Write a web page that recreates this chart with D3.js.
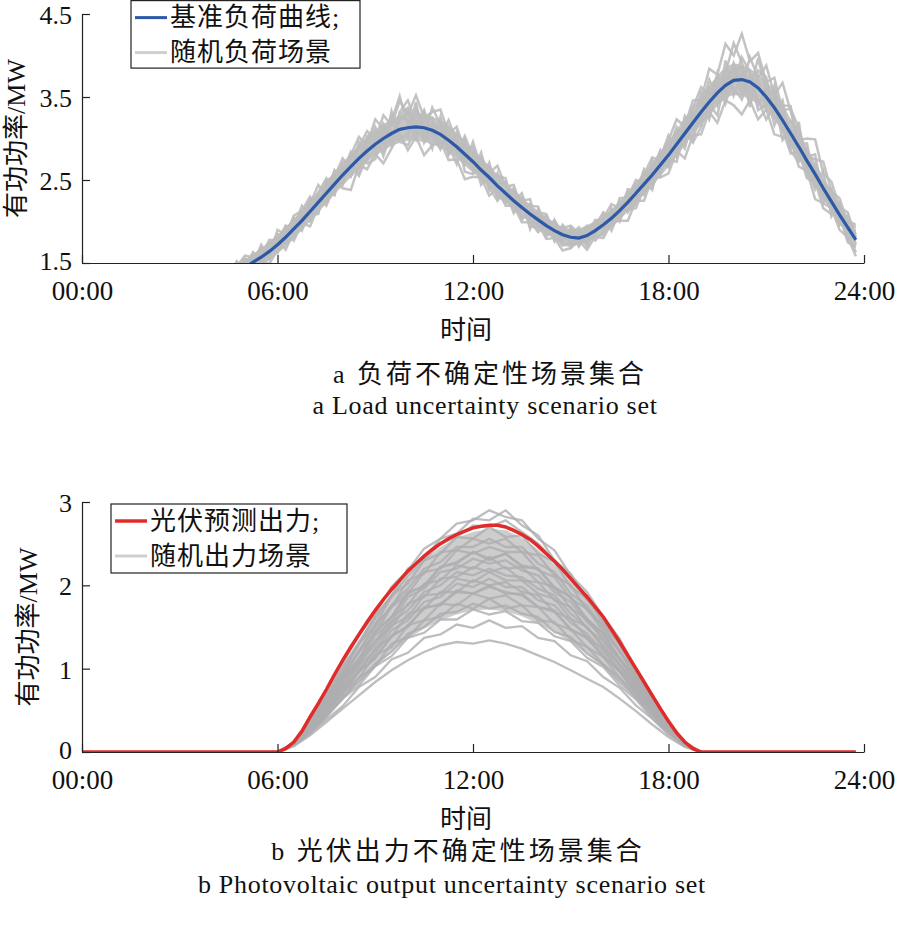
<!DOCTYPE html>
<html>
<head>
<meta charset="utf-8">
<script src="https://cdn.jsdelivr.net/npm/d3@7"></script>
<style>
  body { margin: 0; background: #fff; }
  svg text { font-family: "Liberation Serif", "Noto Sans CJK SC", serif; fill: #111; }
</style>
</head>
<body>
<svg id="chart" width="898" height="928"></svg>
<script>
// ---- data (15-min grid, 00:00 .. 23:45) ----
const xTicks = [0, 6, 12, 18, 24];
const loadTicks = [1.5, 2.5, 3.5, 4.5];
const pvTicks = [0, 1, 2, 3];

// base load curve, MW
const loadBase = [
  1.20,1.16,1.12,1.08, 1.05,1.02,1.00,0.99, 0.98,0.98,0.99,1.00, 1.02,1.05,1.09,1.13,
  1.18,1.24,1.30,1.37, 1.44,1.51,1.57,1.64, 1.72,1.81,1.91,2.01, 2.12,2.23,2.34,2.45,
  2.56,2.66,2.76,2.85, 2.93,3.00,3.06,3.11, 3.13,3.14,3.13,3.10, 3.05,2.98,2.90,2.81,
  2.72,2.62,2.53,2.43, 2.34,2.25,2.17,2.09, 2.02,1.95,1.89,1.84, 1.81,1.80,1.83,1.89,
  1.96,2.04,2.13,2.23, 2.34,2.45,2.56,2.68, 2.80,2.93,3.06,3.19, 3.32,3.44,3.55,3.64,
  3.70,3.71,3.68,3.61, 3.50,3.37,3.22,3.06, 2.90,2.73,2.57,2.40, 2.24,2.08,1.93,1.78
];

// dense core of the random load scenarios (hourly, MW)
const loadCoreHours = [4,5,6,7,8,9,10,11,12,13,14,15,16,17,18,19,20,21,22,23,23.75];
const loadCoreHi = [1.28,1.54,1.84,2.25,2.71,3.10,3.31,3.22,2.87,2.47,2.13,1.91,2.07,2.47,2.97,3.51,3.90,3.69,3.06,2.37,1.88];
const loadCoreLo = [1.09,1.35,1.61,2.00,2.43,2.79,2.97,2.89,2.59,2.22,1.92,1.71,1.86,2.22,2.66,3.16,3.52,3.33,2.75,2.12,1.68];

// random load scenarios: deviation from base, from 04:00 on (15-min steps)
const loadScenarioStart = 16;
const loadScenarioDev = [
  [.08,-.04,.12,.03, -.05,.10,.02,.14, .05,-.08,.12,.00, .16,.04,-.09,.09, .20,-.03,.14,.24,
   .06,.28,.10,.34, .16,.38,.12,.22, .30,.08,.24,.04, .18,-.06,.14,.05, .12,.00,.17,-.05,
   .09,.14,-.03,.08, .14,.05,.12,-.03, .08,.17,.03,.13, -.05,.12,.21,.06, .18,.30,.09,.27,
   .15,.40,.22,.50, .30,.55,.25,.42, .18,.36,.12,.30, .22,.06,.18,.32, .12,.20,.05,.15],
  [-.09,.03,-.06,-.12, .03,-.11,-.03,-.15, -.06,.05,-.14,-.03, -.18,-.05,-.12,.03, -.16,-.28,-.08,-.22,
   -.12,-.30,-.18,-.05, -.27,-.12,-.33,-.18, -.08,-.24,-.15,-.30, -.18,-.09,-.22,-.03, -.15,-.06,-.18,-.10,
   -.05,-.16,-.09,-.19, -.13,-.03,-.17,-.07, -.16,-.06,-.12,-.22, -.09,-.20,-.03,-.15, -.22,-.08,-.30,-.15,
   -.27,-.12,-.36,-.18, -.30,-.42,-.22,-.38, -.15,-.32,-.20,-.08, -.24,-.12,-.30,-.18, -.08,-.18,-.12,-.20],
  [.00,.10,-.07,.06, .12,-.03,.15,-.07, .18,.03,.14,-.06, .09,.21,-.03,.17, -.06,.14,.26,.05,
   .21,-.08,.15,.40, .03,.18,-.09,.27, .12,-.15,.18,.09, -.03,.15,.06,.24, .08,.19,-.02,.10,
   .16,-.04,.12,.03, -.07,.09,-.03,.13, .05,-.09,.15,.06, .16,.00,.10,-.08, .06,.21,-.06,.18,
   .30,.09,.21,.03, .18,-.09,.30,.12, .38,.15,.45,.27, .08,.27,.42,.18, .24,.09,.18,.03],
  [.06,-.03,.05,.15, -.05,.08,-.09,.05, -.10,.09,.02,.18, -.05,-.14,.10,-.08, .09,-.12,.03,-.15,
   -.18,.08,-.09,.15, .09,-.15,.18,-.06, -.18,.15,-.09,.14, .09,-.12,.18,-.09, -.12,.09,-.15,.05,
   .06,-.10,.13,-.06, .09,-.09,.05,-.12, -.08,.12,-.13,.03, .12,-.09,.06,.18, -.12,.09,-.18,.06,
   .12,-.21,.09,-.08, .15,-.18,.06,-.27, -.09,.12,-.24,.06, -.12,.15,-.06,.09, .09,-.12,.15,-.06],
  [-.03,-.10,.02,-.06, .08,.00,-.12,.10, .08,-.15,-.03,.09, .00,.12,.18,-.12, .15,.06,-.18,.12,
   .03,-.15,.27,-.08, -.12,.24,.03,-.22, .21,-.06,-.21,.18, -.12,.21,-.06,.12, .18,-.09,.09,-.15,
   -.09,.08,-.13,.12, .03,.13,-.09,.06, .15,-.03,.09,-.10, -.13,.06,-.10,.13, .15,-.15,.13,-.09,
   -.08,.18,-.15,.30, -.18,.09,-.30,.21, .24,-.12,.09,-.18, .30,-.18,.12,-.09, -.09,.06,-.15,.09],
  [.12,.05,-.03,.09, .15,.06,.09,-.03, -.03,.12,.06,-.09, .12,-.06,.05,.15, .03,.18,-.09,.08,
   .30,.12,-.12,.21, .33,.06,.15,-.03, -.03,.24,.06,-.12, .24,.03,-.15,.15, -.06,.13,.08,.18,
   -.12,.05,.09,-.08, .12,-.06,.08,.10, -.03,.10,-.06,.16, .03,.15,-.12,.09, .24,-.03,.15,-.21,
   .03,.27,-.06,.15, .45,.21,-.12,.36, .06,-.21,.18,.33, -.15,.05,.24,-.12, .15,-.05,.08,.18],
  [-.08,.06,-.12,.00, -.09,-.06,.06,-.10, .10,-.05,-.09,.06, -.12,.08,-.15,-.03, -.09,.03,-.21,-.06,
   .12,-.21,.03,-.15, -.21,-.03,-.15,.09, .06,-.12,.12,-.21, -.15,.06,-.12,-.18, .03,-.15,.06,-.09,
   -.15,.00,-.06,-.13, -.06,.03,-.13,.00, .09,-.15,.00,-.09, -.18,-.05,-.15,-.03, -.06,-.21,.03,-.24,
   -.18,-.03,-.27,.09, -.09,-.24,.06,-.15, -.27,.03,-.12,-.24, -.06,-.21,-.09,-.24, -.15,.00,-.18,-.09],
  [.03,.13,.06,-.05, .02,.12,-.06,.06, .13,.00,.16,.12, .18,-.09,.13,.06, -.03,.09,.15,-.10,
   -.06,.18,-.03,.09, .21,-.09,.06,.15, -.12,.03,-.06,.22, .06,-.18,.03,-.12, -.09,-.03,.12,-.18,
   .13,-.08,.05,-.12, -.10,-.06,.10,-.08, -.12,.05,-.09,.09, .08,-.13,.18,-.12, .09,.15,-.12,.12,
   -.15,.06,.15,-.22, .06,.15,-.15,.03, -.03,.21,-.09,.15, .18,-.08,-.18,.21, -.18,.15,-.08,-.15],
  [.04,.08,-.02,.07, -.07,.04,.11,-.02, .04,.14,-.05,.10, -.10,.07,.02,-.13, .11,-.07,.20,.00,
   -.03,.14,-.14,.18, .24,.00,.21,-.09, .15,-.18,.03,-.06, -.09,.12,-.12,.03, .14,-.12,.03,.12,
   -.03,.12,-.10,.06, .07,-.10,.04,-.06, .12,.00,.12,-.12, .00,.18,-.06,.03, -.15,.12,.06,-.03,
   .24,-.09,.03,.12, -.03,.27,.12,-.21, .12,-.06,.24,-.12, .03,.21,-.15,.03, .03,-.12,.09,.06],
  [-.04,-.08,.09,-.02, .10,-.08,-.05,.08, -.08,-.03,.08,-.12, .06,-.12,.15,.10, -.12,.12,-.03,.18,
   .15,.02,.21,-.12, -.06,.30,-.18,.03, -.15,.06,-.03,.03, .12,-.03,.09,-.15, -.03,.15,-.12,.02,
   .03,-.13,.02,.10, -.12,.08,-.08,.03, -.06,.08,.03,-.03, -.06,.03,-.18,.15, .03,-.06,.21,-.09,
   -.03,-.18,.24,-.12, .21,-.03,-.24,.09, -.12,.27,-.03,-.21, -.18,.09,.03,-.18, .12,-.09,-.03,.12]
];

// PV forecast, MW (15-min grid)
const pvForecast = [
  0,0,0,0, 0,0,0,0, 0,0,0,0, 0,0,0,0, 0,0,0,0, 0,0,0,0,
  0,.04,.12,.25, .42,.58,.75,.93, 1.10,1.26,1.41,1.56, 1.70,1.83,1.95,2.06,
  2.17,2.26,2.35,2.43, 2.50,2.56,2.61,2.65, 2.69,2.71,2.72,2.72, 2.70,2.66,2.61,2.55,
  2.47,2.38,2.29,2.19, 2.08,1.97,1.86,1.74, 1.62,1.47,1.32,1.16, 1.00,.84,.68,.52,
  .37,.23,.12,.04, 0,0,0,0, 0,0,0,0, 0,0,0,0, 0,0,0,0, 0,0,0,0
];

// random PV scenarios, MW, 30-min steps from 06:00 to 19:00
const pvScenarioStart = 6;
const pvFanHi = [0,.11,.38,.70,1.04,1.35,1.64,1.90,2.12,2.30,2.46,2.57,2.64,2.68,2.66,2.57,2.43,2.25,2.04,1.82,1.58,1.29,.97,.66,.35,.11,0];
const pvFanLo = [0,.08,.23,.42,.63,.83,1.02,1.20,1.36,1.48,1.58,1.65,1.70,1.71,1.69,1.63,1.54,1.44,1.32,1.18,1.02,.84,.64,.43,.23,.08,0];
const pvScenarios = [
  [0,.11,.38,.72,1.06,1.40,1.66,1.98,2.18,2.44,2.56,2.74,2.78,2.90,2.82,2.78,2.56,2.42,2.12,1.92,1.62,1.36,1.00,.69,.36,.12,0],
  [0,.11,.36,.68,1.02,1.30,1.64,1.88,2.20,2.32,2.56,2.62,2.80,2.78,2.90,2.72,2.60,2.30,2.14,1.82,1.62,1.28,.99,.65,.35,.11,0],
  [0,.10,.34,.64,.94,1.30,1.52,1.88,2.02,2.30,2.38,2.58,2.56,2.70,2.58,2.60,2.38,2.28,1.98,1.84,1.54,1.29,.95,.65,.34,.11,0],
  [0,.10,.33,.62,.94,1.20,1.54,1.74,2.06,2.14,2.40,2.42,2.56,2.50,2.56,2.40,2.36,2.12,2.00,1.70,1.52,1.20,.93,.61,.33,.10,0],
  [0,.10,.32,.60,.88,1.20,1.42,1.74,1.90,2.16,2.20,2.42,2.38,2.46,2.40,2.40,2.18,2.10,1.84,1.72,1.44,1.21,.89,.62,.32,.10,0],
  [0,.10,.31,.58,.88,1.12,1.44,1.62,1.92,1.98,2.22,2.26,2.40,2.32,2.38,2.22,2.20,1.96,1.86,1.58,1.42,1.13,.88,.58,.31,.10,0],
  [0,.10,.30,.56,.82,1.12,1.32,1.62,1.76,2.02,2.06,2.24,2.20,2.34,2.20,2.22,2.04,1.98,1.72,1.60,1.34,1.12,.83,.58,.30,.10,0],
  [0,.09,.29,.54,.83,1.04,1.34,1.50,1.78,1.86,2.08,2.10,2.22,2.16,2.22,2.06,2.04,1.82,1.74,1.48,1.33,1.05,.82,.54,.29,.09,0],
  [0,.09,.28,.52,.76,1.04,1.22,1.52,1.62,1.88,1.90,2.08,2.04,2.16,2.06,2.06,1.90,1.84,1.60,1.50,1.25,1.04,.77,.54,.28,.09,0],
  [0,.09,.27,.50,.77,.96,1.24,1.38,1.66,1.72,1.92,1.92,2.06,2.00,2.04,1.92,1.88,1.68,1.60,1.37,1.24,.97,.76,.50,.27,.09,0],
  [0,.09,.26,.48,.70,.97,1.12,1.40,1.50,1.74,1.76,1.94,1.90,2.00,1.90,1.90,1.74,1.70,1.46,1.38,1.15,.97,.71,.50,.26,.09,0],
  [0,.08,.25,.46,.71,.89,1.16,1.26,1.52,1.58,1.78,1.76,1.90,1.84,1.88,1.76,1.74,1.54,1.47,1.26,1.14,.89,.70,.46,.25,.08,0],
  [0,.08,.24,.44,.64,.89,1.03,1.30,1.38,1.58,1.62,1.78,1.72,1.84,1.72,1.76,1.58,1.56,1.35,1.26,1.05,.89,.65,.46,.24,.08,0],
  [0,.08,.23,.42,.64,.80,1.03,1.15,1.37,1.43,1.59,1.59,1.71,1.65,1.69,1.57,1.55,1.39,1.33,1.13,1.02,.80,.63,.41,.23,.08,0],
  [0,.08,.22,.39,.55,.78,.90,1.11,1.19,1.37,1.41,1.53,1.49,1.58,1.49,1.51,1.37,1.33,1.16,1.09,.90,.77,.56,.40,.21,.07,0],
  [0,.07,.20,.36,.52,.68,.84,.98,1.10,1.20,1.28,1.32,1.30,1.34,1.30,1.24,1.16,1.08,.98,.88,.78,.64,.49,.33,.18,.06,0],
  [0,.10,.32,.60,.88,1.12,1.44,1.62,1.90,2.00,2.22,2.28,2.40,2.30,2.38,2.24,2.20,1.98,1.86,1.60,1.42,1.12,.88,.58,.31,.10,0],
  [0,.09,.29,.53,.80,1.08,1.28,1.56,1.70,1.92,2.00,2.16,2.12,2.20,2.12,2.10,1.96,1.88,1.66,1.50,1.28,1.05,.80,.54,.28,.09,0],
  [0,.09,.26,.49,.70,.96,1.14,1.38,1.52,1.72,1.78,1.92,1.90,1.98,1.92,1.88,1.74,1.68,1.48,1.36,1.15,.96,.71,.49,.26,.09,0],
  [0,.11,.35,.66,.98,1.30,1.60,1.86,2.12,2.30,2.50,2.58,2.72,2.70,2.78,2.64,2.50,2.30,2.06,1.84,1.58,1.29,.97,.66,.35,.11,0],
  [0,.10,.30,.57,.86,1.08,1.40,1.56,1.86,1.96,2.16,2.20,2.32,2.26,2.30,2.18,2.12,1.92,1.80,1.56,1.38,1.10,.86,.57,.30,.10,0],
  [0,.09,.27,.51,.74,1.00,1.18,1.46,1.58,1.80,1.86,2.02,1.98,2.08,1.98,1.98,1.82,1.76,1.55,1.42,1.20,1.00,.75,.52,.27,.09,0],
  [0,.08,.24,.43,.66,.84,1.06,1.20,1.42,1.50,1.66,1.68,1.78,1.72,1.76,1.66,1.62,1.44,1.38,1.18,1.05,.84,.66,.43,.24,.08,0],
  [0,.10,.33,.61,.90,1.22,1.48,1.76,1.96,2.20,2.28,2.46,2.46,2.56,2.46,2.46,2.26,2.16,1.90,1.76,1.48,1.22,.91,.62,.33,.10,0]
];

const colors = { base: "#2c5aa6", pv: "#e02b2b", scen: "#bdbdbe", core: "#c6c6c7", pvScen: "#aeaeb0", pvFan: "#cdcdce", legendGray: "#cfcfcf" };

// ---- drawing ----
const svg = d3.select("#chart");
const fmtTime = h => String(h).padStart(2, "0") + ":00";

function drawPanel(o) {
  const g = svg.append("g");
  const x = d3.scaleLinear().domain([0, 24]).range([82, 864]);
  const y = d3.scaleLinear().domain(o.yDomain).range([o.yBottom, o.yTop]);

  const clipId = "clip" + o.id;
  svg.append("clipPath").attr("id", clipId).append("rect")
    .attr("x", 82).attr("y", o.yTop).attr("width", 782).attr("height", o.yBottom - o.yTop);

  const plot = g.append("g").attr("clip-path", `url(#${clipId})`);
  o.drawMarks(plot, x, y);

  g.append("g").attr("transform", `translate(0,${o.yBottom})`)
    .call(d3.axisBottom(x).tickValues(xTicks).tickFormat(fmtTime).tickSizeInner(-8).tickSizeOuter(0).tickPadding(17.5))
    .call(a => a.selectAll("text").attr("font-size", 27).attr("font-family", "Liberation Serif"));
  // lowest y label sits a little higher so it clears the time labels below it
  g.append("g").attr("transform", "translate(82,0)")
    .call(d3.axisLeft(y).tickValues(o.yTicks).tickFormat(o.yFormat).tickSizeInner(-8).tickSizeOuter(0).tickPadding(10))
    .call(a => a.selectAll("text").attr("font-size", 26).attr("font-family", "Liberation Serif")
      .attr("dy", (d, i) => i === 0 ? "0.25em" : "0.37em"));
  g.selectAll(".domain, .tick line").attr("stroke", "#222").attr("stroke-width", 1.2);

  // y label
  g.append("text")
    .attr("transform", `translate(${o.yLabelX},${(o.yTop + o.yBottom) / 2}) rotate(-90)`)
    .attr("text-anchor", "middle").attr("dominant-baseline", "central")
    .attr("font-size", 26).text("有功功率/MW");
  // x label and captions
  g.append("text").attr("x", 466).attr("y", o.yBottom + 67).attr("text-anchor", "middle")
    .attr("dominant-baseline", "central").attr("font-size", 26).text("时间");
  g.append("text").attr("x", o.capX).attr("y", o.yBottom + o.capDy).attr("text-anchor", "middle")
    .attr("dominant-baseline", "central").attr("font-size", 26).attr("letter-spacing", 3).text(o.caption);
  g.append("text").attr("x", o.enX).attr("y", o.yBottom + o.enDy).attr("text-anchor", "middle")
    .attr("font-size", 26).attr("letter-spacing", 0.7).text(o.captionEn);

  // legend
  const L = o.legend;
  g.append("rect").attr("x", L.x).attr("y", L.y).attr("width", L.w).attr("height", L.h)
    .attr("fill", "#fff").attr("stroke", "#222").attr("stroke-width", 1.2);
  L.items.forEach((it, i) => {
    const cy = L.y + 17 + i * 35;
    g.append("line").attr("x1", L.x + 4).attr("x2", L.x + 36).attr("y1", cy).attr("y2", cy)
      .attr("stroke", it.color).attr("stroke-width", it.width);
    g.append("text").attr("x", L.x + 39).attr("y", cy).attr("dominant-baseline", "central")
      .attr("font-size", 26).attr("letter-spacing", 1).text(it.label);
  });
}

// panel a: load
drawPanel({
  id: "a", yDomain: [1.5, 4.5], yTop: 14, yBottom: 263, yTicks: loadTicks, yFormat: d3.format(".1f"),
  yLabelX: 16, capX: 490, capDy: 111, enX: 485, enDy: 151,
  caption: "a  负荷不确定性场景集合", captionEn: "a  Load uncertainty scenario set",
  legend: { x: 131, y: 0.6, w: 229, h: 67.5, items: [
    { color: colors.base, width: 3, label: "基准负荷曲线;" },
    { color: colors.legendGray, width: 3, label: "随机负荷场景" }] },
  drawMarks(plot, x, y) {
    const area = d3.area().x((d, i) => x(loadCoreHours[i])).y0((d, i) => y(loadCoreLo[i])).y1(d => y(d))
      .curve(d3.curveCatmullRom);
    plot.append("path").datum(loadCoreHi).attr("d", area).attr("fill", colors.core);
    const line = d3.line().x(d => x(d[0])).y(d => y(d[1]));
    loadScenarioDev.forEach(dev => {
      const pts = dev.map((v, i) => [(loadScenarioStart + i) * 0.25, loadBase[loadScenarioStart + i] + v]);
      plot.append("path").datum(pts).attr("d", line).attr("fill", "none")
        .attr("stroke", colors.scen).attr("stroke-width", 2.5).attr("stroke-opacity", 0.9);
    });
    plot.append("path").datum(loadBase.map((v, i) => [i * 0.25, v])).attr("d", line)
      .attr("fill", "none").attr("stroke", colors.base).attr("stroke-width", 3.2);
  }
});

// panel b: PV
drawPanel({
  id: "b", yDomain: [0, 3], yTop: 502, yBottom: 752, yTicks: pvTicks, yFormat: d3.format("d"),
  yLabelX: 28, capX: 458, capDy: 99, enX: 452, enDy: 141,
  caption: "b  光伏出力不确定性场景集合", captionEn: "b  Photovoltaic output uncertainty scenario set",
  legend: { x: 111, y: 504, w: 236, h: 69, items: [
    { color: colors.pv, width: 3.5, label: "光伏预测出力;" },
    { color: colors.legendGray, width: 3, label: "随机出力场景" }] },
  drawMarks(plot, x, y) {
    const fan = d3.area().x((d, i) => x(pvScenarioStart + i * 0.5)).y0((d, i) => y(pvFanLo[i])).y1(d => y(d));
    plot.append("path").datum(pvFanHi).attr("d", fan).attr("fill", colors.pvFan);
    const line = d3.line().x(d => x(d[0])).y(d => y(d[1]));
    pvScenarios.forEach(s => {
      const pts = s.map((v, i) => [pvScenarioStart + i * 0.5, v]);
      plot.append("path").datum(pts).attr("d", line).attr("fill", "none")
        .attr("stroke", colors.pvScen).attr("stroke-width", 2.3).attr("stroke-opacity", 0.8);
    });
    plot.append("path").datum(pvForecast.map((v, i) => [i * 0.25, v])).attr("d", line)
      .attr("fill", "none").attr("stroke", colors.pv).attr("stroke-width", 3.5);
  }
});
</script>
</body>
</html>
